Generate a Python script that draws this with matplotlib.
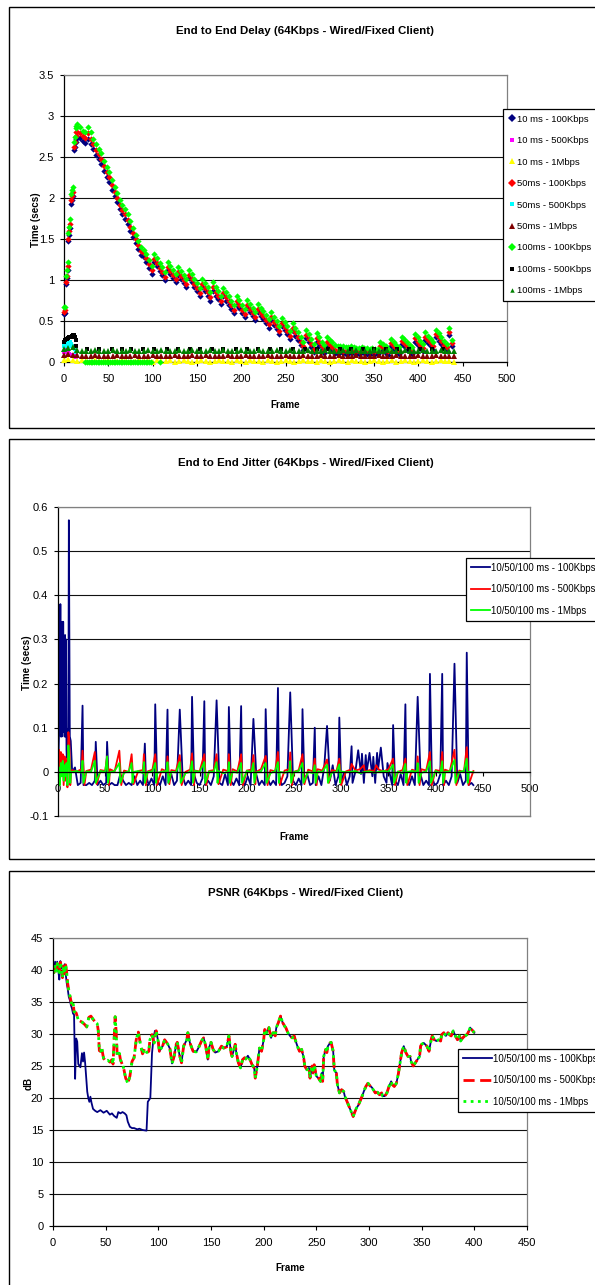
"""End to End Delay / Jitter / PSNR (64Kbps - Wired/Fixed Client), three stacked panels."""

import matplotlib
matplotlib.use("Agg")
import matplotlib.pyplot as plt
from matplotlib import font_manager
from matplotlib.lines import Line2D
from matplotlib.patches import Rectangle
from matplotlib.ticker import FuncFormatter

_names = {f.name for f in font_manager.fontManager.ttflist}
NARROW = "Liberation Sans Narrow" in _names
FONT = "Liberation Sans Narrow" if NARROW else "Liberation Sans"
FS = 1.0 if NARROW else 0.87
plt.rcParams["font.family"] = [FONT, "DejaVu Sans"]

# ---------------------------------------------------------------- delay data
DELAY_FRAMES = list(range(0, 15)) + list(range(15, 439, 3))
EARLY_FRAMES = list(range(0, 15))
LOW_FRAMES = list(range(0, 441, 5))

DELAY_10MS_100K = [
    0.58, 0.60, 0.95, 1.02, 1.12, 1.47, 1.55, 1.63, 1.93, 1.98, 2.03, 2.58, 2.62, 2.68, 2.72,
    2.75, 2.73, 2.70, 2.67, 2.72, 2.66, 2.60, 2.53, 2.48, 2.42, 2.33, 2.26, 2.20, 2.10, 2.02,
    1.95, 1.86, 1.80, 1.75, 1.68, 1.60, 1.52, 1.45, 1.38, 1.30, 1.28, 1.22, 1.15, 1.07,
    1.22, 1.17, 1.11, 1.06, 1.00, 1.12, 1.07, 1.02, 0.97, 1.06, 1.01, 0.96, 0.91,
    1.02, 0.97, 0.91, 0.86, 0.80, 0.91, 0.86, 0.81, 0.75, 0.87, 0.81, 0.77, 0.71,
    0.80, 0.75, 0.70, 0.65, 0.60, 0.70, 0.66, 0.60, 0.55, 0.66, 0.61, 0.56, 0.51,
    0.61, 0.56, 0.52, 0.47, 0.42, 0.51, 0.45, 0.40, 0.34, 0.44, 0.39, 0.34, 0.28,
    0.38, 0.32, 0.27, 0.21, 0.15, 0.29, 0.24, 0.18, 0.12, 0.25, 0.20, 0.15, 0.11,
    0.20, 0.17, 0.14, 0.11, 0.10,
    0.12, 0.11, 0.10, 0.10, 0.12, 0.11, 0.10, 0.10, 0.12, 0.11, 0.10, 0.10, 0.11, 0.10,
    0.10, 0.16, 0.13, 0.11, 0.09, 0.19, 0.16, 0.13, 0.10, 0.22, 0.19, 0.15, 0.12, 0.10,
    0.25, 0.21, 0.17, 0.13, 0.27, 0.23, 0.19, 0.15, 0.30, 0.26, 0.22, 0.17, 0.14,
    0.33, 0.19,
]
DELAY_50MS_100K = [
    0.61, 0.63, 0.98, 1.05, 1.17, 1.50, 1.60, 1.68, 1.97, 2.02, 2.07, 2.62, 2.68, 2.76, 2.80,
    2.81, 2.79, 2.76, 2.73, 2.79, 2.72, 2.66, 2.59, 2.54, 2.48, 2.39, 2.32, 2.26, 2.16, 2.07,
    2.00, 1.91, 1.85, 1.80, 1.73, 1.65, 1.57, 1.50, 1.43, 1.35, 1.33, 1.27, 1.20, 1.12,
    1.26, 1.21, 1.15, 1.10, 1.04, 1.16, 1.11, 1.06, 1.01, 1.10, 1.05, 1.00, 0.95,
    1.06, 1.01, 0.95, 0.90, 0.84, 0.95, 0.90, 0.85, 0.79, 0.91, 0.85, 0.81, 0.75,
    0.84, 0.79, 0.74, 0.69, 0.64, 0.74, 0.70, 0.64, 0.59, 0.70, 0.65, 0.60, 0.55,
    0.65, 0.60, 0.56, 0.51, 0.46, 0.55, 0.49, 0.44, 0.38, 0.48, 0.43, 0.38, 0.32,
    0.42, 0.36, 0.31, 0.25, 0.19, 0.33, 0.28, 0.22, 0.16, 0.29, 0.24, 0.19, 0.15,
    0.24, 0.21, 0.18, 0.15, 0.14,
    0.15, 0.14, 0.13, 0.13, 0.15, 0.14, 0.13, 0.13, 0.15, 0.14, 0.13, 0.13, 0.14, 0.13,
    0.13, 0.20, 0.17, 0.15, 0.13, 0.23, 0.20, 0.17, 0.14, 0.26, 0.23, 0.19, 0.16, 0.14,
    0.29, 0.25, 0.21, 0.17, 0.31, 0.27, 0.23, 0.19, 0.34, 0.30, 0.26, 0.21, 0.18,
    0.37, 0.23,
]
DELAY_100MS_100K = [
    0.67, 0.67, 1.05, 1.12, 1.22, 1.57, 1.65, 1.74, 2.05, 2.10, 2.13, 2.68, 2.75, 2.85, 2.88,
    2.90, 2.86, 2.82, 2.80, 2.87, 2.80, 2.72, 2.66, 2.60, 2.55, 2.45, 2.38, 2.32, 2.22, 2.13,
    2.06, 1.97, 1.92, 1.87, 1.80, 1.72, 1.63, 1.55, 1.48, 1.40, 1.37, 1.32, 1.25, 1.17,
    1.32, 1.27, 1.21, 1.16, 1.10, 1.22, 1.17, 1.12, 1.07, 1.16, 1.11, 1.06, 1.01,
    1.12, 1.07, 1.01, 0.96, 0.90, 1.01, 0.96, 0.91, 0.85, 0.97, 0.91, 0.87, 0.81,
    0.90, 0.85, 0.80, 0.75, 0.70, 0.80, 0.76, 0.70, 0.65, 0.76, 0.71, 0.66, 0.61,
    0.71, 0.66, 0.62, 0.57, 0.52, 0.61, 0.55, 0.50, 0.44, 0.54, 0.49, 0.44, 0.38,
    0.48, 0.42, 0.37, 0.31, 0.25, 0.39, 0.34, 0.28, 0.22, 0.35, 0.30, 0.25, 0.21,
    0.30, 0.27, 0.24, 0.21, 0.20,
    0.20, 0.19, 0.18, 0.18, 0.19, 0.18, 0.17, 0.17, 0.18, 0.17, 0.17, 0.16, 0.17, 0.16,
    0.16, 0.25, 0.22, 0.19, 0.16, 0.28, 0.25, 0.21, 0.18, 0.31, 0.28, 0.24, 0.21, 0.18,
    0.34, 0.30, 0.26, 0.22, 0.36, 0.32, 0.28, 0.24, 0.39, 0.35, 0.31, 0.26, 0.22,
    0.42, 0.27,
]
# frames where the 100ms-100Kbps series sits on zero
GREEN_ZERO_FRAMES = [24, 26, 28, 30, 32, 34, 36, 38, 40, 42, 44, 46, 48, 50, 52, 54, 56,
                     58, 60, 62, 64, 66, 68, 70, 72, 74, 76, 78, 80, 82, 84, 86, 88, 90,
                     92, 94, 96, 98, 108]
GREEN_ZERO_VALS = [0.0] * len(GREEN_ZERO_FRAMES)

DELAY_10MS_500K = [0.12, 0.15, 0.14, 0.12, 0.10, 0.11, 0.10, 0.09, 0.08, 0.08, 0.07, 0.07,
                   0.06, 0.06, 0.06]
DELAY_50MS_500K = [0.20, 0.22, 0.24, 0.22, 0.20, 0.23, 0.25, 0.24, 0.22, 0.20, 0.19, 0.18,
                   0.16, 0.14, 0.12]
DELAY_100MS_500K_EARLY = [0.25, 0.27, 0.28, 0.28, 0.29, 0.29, 0.30, 0.30, 0.31, 0.32, 0.33,
                          0.33, 0.31, 0.27, 0.20]
BLACK_BUMP_FRAMES = [26, 39, 54, 65, 76, 89, 102, 116, 129, 142, 154, 167, 180, 194, 207,
                     219, 232, 245, 259, 272, 285, 298, 311, 324, 337, 350, 363, 376, 389,
                     402, 415, 428]
BLACK_BUMP_VALS = [0.16] * len(BLACK_BUMP_FRAMES)

DELAY_100MS_1M = [
    0.16, 0.17, 0.18, 0.15, 0.13, 0.14, 0.13, 0.15, 0.13, 0.14,
    0.13, 0.15, 0.13, 0.14, 0.13, 0.15, 0.14, 0.13, 0.14, 0.15,
    0.13, 0.14, 0.15, 0.13, 0.14, 0.13, 0.15, 0.13, 0.14, 0.15,
    0.13, 0.14, 0.13, 0.15, 0.14, 0.13, 0.15, 0.13, 0.14, 0.13,
    0.15, 0.14, 0.13, 0.14, 0.15, 0.13, 0.14, 0.13, 0.15, 0.13,
    0.14, 0.15, 0.13, 0.14, 0.13, 0.15, 0.14, 0.13, 0.14, 0.15,
    0.13, 0.14, 0.13, 0.15, 0.13, 0.14, 0.15, 0.13, 0.14, 0.13,
    0.15, 0.13, 0.14, 0.15, 0.13, 0.14, 0.13, 0.15, 0.14, 0.13,
    0.14, 0.15, 0.13, 0.14, 0.13, 0.15, 0.14, 0.13, 0.14,
]
DELAY_50MS_1M = [
    0.09, 0.10, 0.09, 0.08, 0.07, 0.07, 0.07, 0.08, 0.07, 0.07,
    0.07, 0.07, 0.08, 0.07, 0.07, 0.07, 0.08, 0.07, 0.07, 0.07,
    0.08, 0.07, 0.07, 0.07, 0.07, 0.08, 0.07, 0.07, 0.07, 0.08,
    0.07, 0.07, 0.08, 0.07, 0.07, 0.07, 0.07, 0.08, 0.07, 0.07,
    0.07, 0.08, 0.07, 0.07, 0.07, 0.07, 0.08, 0.07, 0.07, 0.07,
    0.08, 0.07, 0.07, 0.07, 0.08, 0.07, 0.07, 0.07, 0.08, 0.07,
    0.07, 0.07, 0.08, 0.07, 0.07, 0.07, 0.08, 0.07, 0.07, 0.07,
    0.07, 0.08, 0.07, 0.07, 0.07, 0.08, 0.07, 0.07, 0.07, 0.07,
    0.08, 0.07, 0.07, 0.07, 0.08, 0.07, 0.07, 0.07, 0.07,
]
DELAY_10MS_1M = [
    0.03, 0.04, 0.02, 0.01, 0.02, 0.01, 0.00, 0.02, 0.01, 0.01,
    0.02, 0.00, 0.01, 0.02, 0.01, 0.00, 0.01, 0.02, 0.01, 0.01,
    0.00, 0.02, 0.01, 0.01, 0.02, 0.00, 0.01, 0.02, 0.01, 0.00,
    0.01, 0.02, 0.01, 0.00, 0.01, 0.02, 0.01, 0.01, 0.00, 0.02,
    0.01, 0.00, 0.02, 0.01, 0.01, 0.00, 0.02, 0.01, 0.00, 0.01,
    0.02, 0.01, 0.00, 0.01, 0.02, 0.01, 0.01, 0.00, 0.02, 0.01,
    0.00, 0.01, 0.02, 0.01, 0.00, 0.02, 0.01, 0.01, 0.00, 0.01,
    0.02, 0.01, 0.00, 0.01, 0.02, 0.00, 0.01, 0.02, 0.01, 0.00,
    0.01, 0.02, 0.01, 0.00, 0.01, 0.02, 0.01, 0.01, 0.00,
]

# --------------------------------------------------------------- jitter data
JIT_BLUE_EARLY_FRAMES = [0, 1, 1.5, 2, 2.5, 3, 3.5, 4, 4.5, 5, 5.5, 6, 6.5, 7, 7.5, 8, 8.5,
                         9, 9.5, 10, 11, 11.5, 12.5, 13.5]
JIT_BLUE_EARLY = [-0.02, 0.08, 0.30, 0.09, 0.38, 0.08, 0.25, 0.08, 0.34, 0.09, 0.34, 0.10,
                  0.22, 0.08, 0.31, 0.08, 0.30, 0.05, 0.02, 0.08, 0.10, 0.57, 0.08, 0.07]
JIT_BLUE_BASE_FRAMES = list(range(15, 439, 3))
JIT_BLUE_BASE = [
    0.00, 0.01, -0.03, -0.025, -0.03, -0.03, -0.025, -0.03, -0.02, -0.03,
    -0.02, -0.03, -0.025, -0.03, -0.025, -0.03, -0.03, -0.005, -0.02, -0.03,
    -0.025, -0.03, -0.01, -0.03, -0.02, -0.03, -0.005, -0.03, -0.015, -0.03,
    -0.02, -0.03, -0.01, -0.03, -0.025, -0.005, -0.03, -0.02, -0.03, -0.01,
    -0.03, -0.02, -0.03, -0.005, -0.025, -0.03, -0.015, -0.03, -0.02, -0.03,
    -0.01, -0.03, -0.025, -0.03, -0.005, -0.03, -0.02, -0.03, -0.015, -0.03,
    -0.02, -0.03, -0.01, -0.03, -0.025, -0.005, -0.03, -0.02, -0.03, -0.015,
    -0.03, -0.02, -0.03, -0.005, -0.03, -0.025, -0.01, -0.03, -0.02, -0.03,
    -0.015, -0.03, -0.02, -0.005, -0.03, -0.025, -0.03, -0.01, -0.03, 0.01,
    -0.03, -0.02, 0.015, -0.03, -0.01, -0.025, 0.0, -0.03, -0.01, -0.025,
    0.0, -0.03, -0.005, -0.025, 0.0, -0.03, -0.01, -0.025, 0.005, -0.03,
    -0.01, -0.025, 0.0, -0.03, -0.02, -0.03, -0.005, -0.03, -0.02, -0.03,
    -0.01, -0.03, -0.025, -0.005, -0.03, -0.02, -0.03, -0.01, -0.03, -0.025,
    -0.005, -0.03, -0.02, -0.03, -0.01, -0.03, -0.025, -0.005, -0.03, -0.02,
    -0.03, -0.025,
]
JIT_BLUE_SPIKE_FRAMES = [26, 40, 52, 92, 103, 116, 129, 142, 155, 168, 181, 194, 207, 220,
                         233, 246, 259, 272, 285, 298, 311, 318, 322, 326, 330, 334, 338,
                         342, 349, 355, 368, 381, 394, 407, 420, 433, 440]
JIT_BLUE_SPIKES = [0.15, 0.068, 0.068, 0.064, 0.153, 0.141, 0.141, 0.17, 0.16, 0.162,
                   0.147, 0.149, 0.12, 0.142, 0.19, 0.18, 0.142, 0.10, 0.104, 0.123,
                   0.058, 0.049, 0.041, 0.038, 0.043, 0.034, 0.043, 0.055, 0.02, 0.106,
                   0.153, 0.17, 0.222, 0.222, 0.245, 0.27, -0.03]

JIT_RED_EARLY = [0.0, 0.05, -0.02, 0.045, -0.01, 0.04, -0.03, 0.035, -0.02, 0.03, -0.035,
                 0.09, 0.07, -0.03, 0.0]
JIT_GREEN_EARLY = [-0.02, 0.01, -0.03, 0.02, -0.01, 0.025, -0.02, 0.015, -0.01, 0.02,
                   -0.03, 0.06, 0.03, -0.025, 0.0]
JIT_BASE_FRAMES = list(range(15, 441, 5))
JIT_RED_BASE = [
    0.004, 0.001, 0.006, 0.002, 0.005, 0.000, 0.004, 0.002, 0.006, 0.001,
    0.005, 0.003, 0.000, 0.006, 0.002, 0.004, 0.001, 0.005, 0.003, 0.006,
    0.001, 0.004, 0.002, 0.006, 0.000, 0.005, 0.003, 0.001, 0.006, 0.002,
    0.004, 0.000, 0.005, 0.002, 0.006, 0.001, 0.004, 0.003, 0.005, 0.000,
    0.006, 0.002, 0.004, 0.001, 0.005, 0.003, 0.006, 0.000, 0.004, 0.002,
    0.005, 0.001, 0.006, 0.003, 0.000, 0.004, 0.002, 0.006, 0.001, 0.005,
    0.003, 0.006, 0.000, 0.004, 0.002, 0.005, 0.001, 0.006, 0.003, 0.000,
    0.004, 0.002, 0.005, 0.001, 0.006, 0.003, 0.000, 0.004, 0.002, 0.005,
    0.001, 0.006, 0.003, 0.000, 0.004, 0.002,
]
JIT_GREEN_BASE = [
    0.000, 0.002, -0.002, 0.001, 0.000, -0.003, 0.002, 0.000, -0.001, 0.002,
    0.000, -0.002, 0.001, 0.000, 0.002, -0.003, 0.000, 0.001, -0.002, 0.000,
    0.002, 0.000, -0.001, 0.001, -0.003, 0.000, 0.002, 0.000, -0.002, 0.001,
    0.000, 0.002, -0.003, 0.000, 0.001, -0.002, 0.000, 0.002, 0.000, -0.001,
    0.001, 0.000, -0.003, 0.002, 0.000, -0.002, 0.001, 0.000, 0.002, -0.001,
    0.000, -0.003, 0.001, 0.000, 0.002, -0.002, 0.000, 0.001, -0.001, 0.000,
    0.002, -0.003, 0.000, 0.001, -0.002, 0.000, 0.002, 0.000, -0.001, 0.001,
    -0.003, 0.000, 0.002, 0.000, -0.002, 0.001, 0.000, 0.002, -0.003, 0.000,
    0.001, -0.002, 0.000, 0.002, 0.000, -0.001,
]
JIT_RED_EVENT_FRAMES = [26, 28, 39, 41, 52, 54, 65, 67, 78, 80, 91, 93, 103, 105, 116, 118,
                        129, 131, 142, 144, 155, 157, 168, 170, 181, 183, 194, 196, 207, 209,
                        220, 222, 233, 235, 246, 248, 259, 261, 272, 274, 285, 287, 298, 300,
                        311, 324, 337, 355, 357, 368, 370, 381, 383, 394, 396, 407, 409,
                        420, 422, 433, 435]
JIT_RED_EVENTS = [0.048, -0.03, 0.045, -0.028, 0.035, -0.03, 0.048, -0.03, 0.04, -0.028,
                  0.04, -0.03, 0.04, -0.03, 0.035, -0.028, 0.038, -0.03, 0.042, -0.03,
                  0.04, -0.03, 0.04, -0.028, 0.04, -0.03, 0.04, -0.03, 0.038, -0.028,
                  0.036, -0.03, 0.045, -0.03, 0.044, -0.03, 0.04, -0.028, 0.03, -0.03,
                  0.028, -0.025, 0.03, -0.03,
                  0.018, 0.015, 0.015, 0.03, -0.03, 0.03, -0.03, 0.035, -0.03, 0.045,
                  -0.03, 0.045, -0.03, 0.05, -0.03, 0.056, -0.03]
JIT_GREEN_EVENT_FRAMES = [26, 27, 39, 40, 52, 53, 65, 66, 78, 79, 91, 92, 103, 104, 116,
                          117, 129, 130, 142, 143, 155, 156, 168, 169, 181, 182, 194, 195,
                          207, 208, 220, 221, 233, 234, 246, 247, 259, 260, 272, 273, 285,
                          286, 298, 299, 355, 356, 368, 369, 381, 382, 394, 395, 407, 408,
                          420, 421, 433, 434]
JIT_GREEN_EVENTS = [0.025, -0.025, 0.025, -0.025, 0.035, -0.025, 0.02, -0.025, 0.02, -0.025,
                    0.022, -0.025, 0.02, -0.025, 0.022, -0.025, 0.022, -0.025, 0.024,
                    -0.025, 0.022, -0.025, 0.022, -0.025, 0.022, -0.025, 0.02, -0.025,
                    0.02, -0.025, 0.02, -0.025, 0.022, -0.025, 0.024, -0.025, 0.02, -0.025,
                    0.015, -0.025, 0.016, -0.025, 0.017, -0.025,
                    0.016, -0.025, 0.018, -0.025, 0.02, -0.025, 0.024, -0.025, 0.024,
                    -0.025, 0.027, -0.025, 0.03, -0.025]

# ----------------------------------------------------------------- PSNR data
PSNR_FRAMES = [
    0, 1, 2, 3, 4, 5, 6, 7, 8, 9,
    10, 11, 12, 13, 14, 15, 16, 17, 18, 19,
    20, 22, 24, 26, 28, 30, 32, 34, 36, 38,
    40, 42, 43, 44, 45, 46, 48, 50, 52, 54,
    56, 57, 58, 59, 60, 61, 63, 64, 67, 69,
    71, 73, 75, 77, 79, 81, 83, 85, 87, 89,
    91, 92, 94, 96, 98, 100, 101, 104, 106, 109,
    111, 113, 115, 117, 118, 120, 122, 124, 127, 128,
    130, 133, 136, 138, 141, 143, 145, 147, 148, 150,
    152, 154, 157, 160, 162, 165, 167, 169, 170, 173,
    174, 176, 178, 180, 182, 183, 185, 187, 189, 191,
    192, 194, 196, 198, 200, 201, 203, 205, 207, 209,
    211, 212, 214, 216, 218, 220, 221, 223, 225, 227,
    229, 230, 232, 234, 236, 238, 239, 241, 243, 244,
    246, 247, 248, 250, 252, 254, 255, 256, 257, 259,
    260, 261, 263, 264, 266, 267, 269, 270, 272, 274,
    276, 277, 279, 281, 283, 285, 286, 288, 290, 292,
    294, 295, 297, 299, 301, 303, 304, 306, 308, 310,
    312, 313, 315, 317, 319, 321, 322, 324, 326, 328,
    330, 331, 333, 335, 337, 339, 340, 342, 344, 346,
    348, 349, 350, 352, 355, 357, 359, 360, 362, 364,
    366, 368, 369, 371, 373, 375, 377, 378, 380, 382,
    384, 386, 387, 389, 391, 393, 395, 396, 398, 400,
]
PSNR_500K = [
    40.0, 39.6, 40.6, 39.8, 41.0, 40.2, 39.6, 41.2, 40.4, 38.8,
    40.6, 39.4, 40.8, 39.6, 37.8, 36.8, 36.0, 35.2, 34.6, 35.0,
    33.5, 33.3, 32.2, 32.0, 31.8, 31.5, 31.1, 32.6, 32.8, 32.3,
    31.9, 31.6, 30.5, 27.4, 27.3, 28.0, 26.2, 25.8, 25.9, 25.6,
    26.0, 25.3, 29.0, 32.7, 30.2, 26.5, 27.0, 26.0, 24.7, 23.1,
    22.3, 23.4, 25.7, 26.3, 29.1, 30.3, 28.4, 26.9, 27.7, 27.1,
    27.3, 29.1, 29.9, 28.6, 30.5, 28.7, 27.3, 28.1, 29.1, 28.4,
    27.7, 25.4, 26.5, 28.4, 28.7, 26.8, 25.5, 28.1, 29.1, 30.2,
    28.6, 27.3, 27.2, 27.8, 28.9, 29.4, 28.1, 26.0, 27.8, 28.7,
    27.6, 27.1, 27.3, 28.1, 27.8, 28.0, 29.7, 27.1, 26.5, 28.4,
    27.1, 25.5, 24.7, 26.0, 26.3, 26.1, 26.6, 26.0, 25.2, 24.7,
    23.1, 25.0, 27.8, 27.3, 29.1, 30.7, 30.2, 31.0, 29.4, 30.2,
    29.7, 31.0, 31.8, 32.8, 31.8, 31.2, 31.0, 30.2, 29.7, 29.4,
    29.7, 29.1, 28.1, 27.3, 27.6, 26.3, 25.0, 24.4, 24.7, 23.1,
    25.0, 23.9, 25.2, 23.4, 23.1, 22.6, 23.9, 22.6, 26.5, 27.6,
    27.1, 28.1, 28.6, 28.7, 27.3, 24.4, 23.9, 22.1, 20.8, 21.3,
    21.0, 20.3, 19.5, 18.7, 17.9, 17.1, 17.6, 18.4, 18.9, 19.7,
    20.5, 21.0, 21.8, 22.3, 21.9, 21.6, 21.3, 20.8, 20.9, 20.5,
    20.8, 20.3, 20.3, 20.8, 21.8, 22.6, 22.1, 21.8, 22.3, 23.9,
    26.0, 27.1, 28.1, 27.1, 26.5, 26.5, 25.7, 25.0, 25.5, 26.0,
    26.5, 28.1, 28.4, 28.6, 28.1, 27.3, 29.1, 29.7, 29.1, 28.9,
    29.1, 28.9, 29.9, 30.2, 29.7, 30.2, 29.8, 29.7, 30.5, 29.7,
    29.1, 29.7, 28.9, 29.4, 29.7, 29.9, 30.5, 31.0, 30.6, 30.2,
]
# the 1Mbps trace sits on top of the 500Kbps trace
PSNR_1M = PSNR_500K
# 100Kbps trace where it departs from the others (frames 0-97)
PSNR_100K_FRAMES = [
    0, 1, 2, 3, 4, 5, 6, 7, 8, 9, 10, 11, 12, 13, 14, 15, 16, 17, 18, 19, 20,
    21, 22, 23, 24, 26, 27.5, 28.5, 29.5, 30.5, 32.5, 33.5, 34.5, 35.5, 36.5,
    38, 40, 42, 45, 48, 51, 54, 56, 58, 60.5, 62, 64, 66, 68, 69.7,
    71, 73, 75, 77, 80, 82, 85, 88.8, 90, 92.4, 94, 95.5, 96.8,
]
PSNR_100K = [
    40.2, 39.8, 41.3, 40.0, 41.3, 40.0, 38.5, 41.4, 40.2, 40.6, 39.8, 40.9, 39.5, 38.0,
    37.0, 35.8, 35.3, 34.5, 34.0, 33.2, 33.0,
    23.0, 29.3, 28.8, 25.3, 24.8, 27.0, 25.7, 27.1, 25.5, 21.0, 20.0, 19.4, 20.2, 19.3,
    18.3, 18.0, 17.8, 18.1, 17.7, 18.0, 17.4, 17.6, 17.2, 16.9, 17.8, 17.6, 17.8, 17.6,
    17.3, 16.3, 15.5, 15.3, 15.3, 15.1, 15.2, 15.0, 14.9, 19.4, 20.0, 27.0, 29.5, 30.5,
]

# ------------------------------------------------------------------- layout
W, H = 595, 1285
NAVY, RED, LIME = "#000080", "#FF0000", "#00FF00"


def add_axes(fig, left, top, right, bottom):
    return fig.add_axes([left / W, 1 - bottom / H, (right - left) / W, (bottom - top) / H])


def fpos(x, y):
    return x / W, 1 - y / H


def merge(*pairs):
    pts = {}
    for xs, ys in pairs:
        pts.update(zip(xs, ys))
    xs = sorted(pts)
    return xs, [pts[x] for x in xs]


def style(ax, xticks, yticks, xpad=6.0, ypad=4.0):
    ax.set_xticks(xticks)
    ax.set_yticks(yticks)
    ax.set_xlim(xticks[0], xticks[-1])
    ax.set_ylim(yticks[0], yticks[-1])
    fmt = FuncFormatter(lambda v, p: f"{v:g}")
    ax.xaxis.set_major_formatter(fmt)
    ax.yaxis.set_major_formatter(fmt)
    ax.grid(axis="y", color="#111111", lw=0.8)
    ax.set_axisbelow(True)
    for s in ("top", "right"):
        ax.spines[s].set_color("#808080")
        ax.spines[s].set_linewidth(0.9)
    for s in ("left", "bottom"):
        ax.spines[s].set_color("black")
        ax.spines[s].set_linewidth(0.9)
    ax.tick_params(axis="x", direction="out", length=3, width=0.8, pad=xpad,
                   labelsize=8.0)
    ax.tick_params(axis="y", direction="out", length=3, width=0.8, pad=ypad,
                   labelsize=8.0)


def legend(ax, x, y, handles=None, **kw):
    if handles is not None:
        kw["handles"] = handles
    leg = ax.legend(loc="upper left", bbox_to_anchor=fpos(x, y),
                    bbox_transform=ax.figure.transFigure, borderaxespad=0,
                    frameon=True, fancybox=False, edgecolor="black",
                    framealpha=1, **kw)
    leg.get_frame().set_linewidth(0.9)
    return leg


fig = plt.figure(figsize=(W / 100, H / 100), dpi=100)

# panel frames
for top, bottom in [(7, 428), (439, 859), (871, 1300)]:
    fig.add_artist(Rectangle(fpos(9, bottom), (700 - 9) / W, (bottom - top) / H,
                             transform=fig.transFigure, fill=False, ec="black", lw=1.0))

TITLE_KW = dict(fontsize=9.5 * FS, fontweight="bold", ha="center", va="center")
LABEL_KW = dict(fontsize=8.2 * FS, fontweight="bold", ha="center", va="center")

# ---------------------------------------------------------------- panel 1
ax1 = add_axes(fig, 64, 75, 507, 362)
# (label, colour, marker, size in plot, size in legend)
SERIES_STYLE = [
    ("10 ms - 100Kbps", NAVY, "D", 3.2, 3.6),
    ("10 ms - 500Kbps", "#FF00FF", "s", 3.4, 3.4),
    ("10 ms - 1Mbps", "#FFFF00", "^", 4.6, 4.2),
    ("50ms - 100Kbps", RED, "D", 3.2, 3.6),
    ("50ms - 500Kbps", "#00FFFF", "s", 3.4, 3.4),
    ("50ms - 1Mbps", "#800000", "^", 3.8, 4.2),
    ("100ms - 100Kbps", LIME, "D", 3.2, 3.6),
    ("100ms - 500Kbps", "black", "s", 2.6, 2.4),
    ("100ms - 1Mbps", "#008000", "^", 4.6, 3.2),
]
SERIES_DATA = [
    (DELAY_FRAMES, DELAY_10MS_100K),
    (EARLY_FRAMES, DELAY_10MS_500K),
    (LOW_FRAMES, DELAY_10MS_1M),
    (DELAY_FRAMES, DELAY_50MS_100K),
    (EARLY_FRAMES, DELAY_50MS_500K),
    (LOW_FRAMES, DELAY_50MS_1M),
    (DELAY_FRAMES + GREEN_ZERO_FRAMES, DELAY_100MS_100K + GREEN_ZERO_VALS),
    (EARLY_FRAMES + BLACK_BUMP_FRAMES, DELAY_100MS_500K_EARLY + BLACK_BUMP_VALS),
    (LOW_FRAMES, DELAY_100MS_1M),
]
handles = []
for (lab, col, m, ms, lms), (xs, ys) in zip(SERIES_STYLE, SERIES_DATA):
    ax1.plot(xs, ys, ls="none", marker=m, ms=ms, color=col, mew=0, clip_on=False,
             zorder=3)
    handles.append(Line2D([], [], ls="none", marker=m, ms=lms, color=col, mew=0,
                          label=lab))
style(ax1, list(range(0, 501, 50)), [0, 0.5, 1, 1.5, 2, 2.5, 3, 3.5])
legend(ax1, 503, 109, handles=handles, fontsize=6.8, handlelength=0.6,
       handletextpad=0.25, labelspacing=1.32, borderpad=0.6)
fig.text(*fpos(305, 31), "End to End Delay (64Kbps - Wired/Fixed Client)", **TITLE_KW)
fig.text(*fpos(285, 405), "Frame", **LABEL_KW)
fig.text(*fpos(36, 220), "Time (secs)", rotation=90, **LABEL_KW)

# ---------------------------------------------------------------- panel 2
ax2 = add_axes(fig, 58, 507, 530, 816)
bx, by = merge((JIT_BLUE_EARLY_FRAMES, JIT_BLUE_EARLY),
               (JIT_BLUE_BASE_FRAMES, JIT_BLUE_BASE),
               (JIT_BLUE_SPIKE_FRAMES, JIT_BLUE_SPIKES))
rx, ry = merge((EARLY_FRAMES, JIT_RED_EARLY), (JIT_BASE_FRAMES, JIT_RED_BASE),
               (JIT_RED_EVENT_FRAMES, JIT_RED_EVENTS))
gx, gy = merge((EARLY_FRAMES, JIT_GREEN_EARLY), (JIT_BASE_FRAMES, JIT_GREEN_BASE),
               (JIT_GREEN_EVENT_FRAMES, JIT_GREEN_EVENTS))
ax2.plot(bx, by, color=NAVY, lw=1.3, label="10/50/100 ms - 100Kbps")
ax2.plot(rx, ry, color=RED, lw=1.3, label="10/50/100 ms - 500Kbps")
ax2.plot(gx, gy, color=LIME, lw=1.3, label="10/50/100 ms - 1Mbps")
style(ax2, list(range(0, 501, 50)), [-0.1, 0, 0.1, 0.2, 0.3, 0.4, 0.5, 0.6])
ax2.spines["bottom"].set_position(("data", 0))
ax2.axhline(-0.1, color="#808080", lw=1.0, zorder=0.5, clip_on=False)
legend(ax2, 466, 558, fontsize=6.9, handlelength=2.0, handletextpad=0.15,
       labelspacing=1.2, borderpad=0.5)
fig.text(*fpos(306, 463), "End to End Jitter (64Kbps - Wired/Fixed Client)", **TITLE_KW)
fig.text(*fpos(294, 837), "Frame", **LABEL_KW)
fig.text(*fpos(27, 663), "Time (secs)", rotation=90, **LABEL_KW)

# ---------------------------------------------------------------- panel 3
ax3 = add_axes(fig, 53, 938, 527, 1226)
blue_x = PSNR_100K_FRAMES + [f for f in PSNR_FRAMES if f >= 98]
blue_y = PSNR_100K + [v for f, v in zip(PSNR_FRAMES, PSNR_500K) if f >= 98]
ax3.plot(blue_x, blue_y, color=NAVY, lw=1.3, label="10/50/100 ms - 100Kbps")
ax3.plot(PSNR_FRAMES, PSNR_500K, color=RED, lw=2.0, dashes=(4, 2),
         label="10/50/100 ms - 500Kbps")
ax3.plot(PSNR_FRAMES, PSNR_1M, color=LIME, lw=2.0, dashes=(1, 1.6),
         dash_capstyle="butt", label="10/50/100 ms - 1Mbps")
style(ax3, list(range(0, 451, 50)), list(range(0, 46, 5)))
legend(ax3, 458, 1049, fontsize=6.9, handlelength=3.0, handletextpad=0.15,
       labelspacing=1.2, borderpad=0.5)
fig.text(*fpos(306, 893), "PSNR (64Kbps - Wired/Fixed Client)", **TITLE_KW)
fig.text(*fpos(290, 1268), "Frame", **LABEL_KW)
fig.text(*fpos(29, 1083), "dB", rotation=90, **LABEL_KW)

fig.savefig("out.png", dpi=100)
